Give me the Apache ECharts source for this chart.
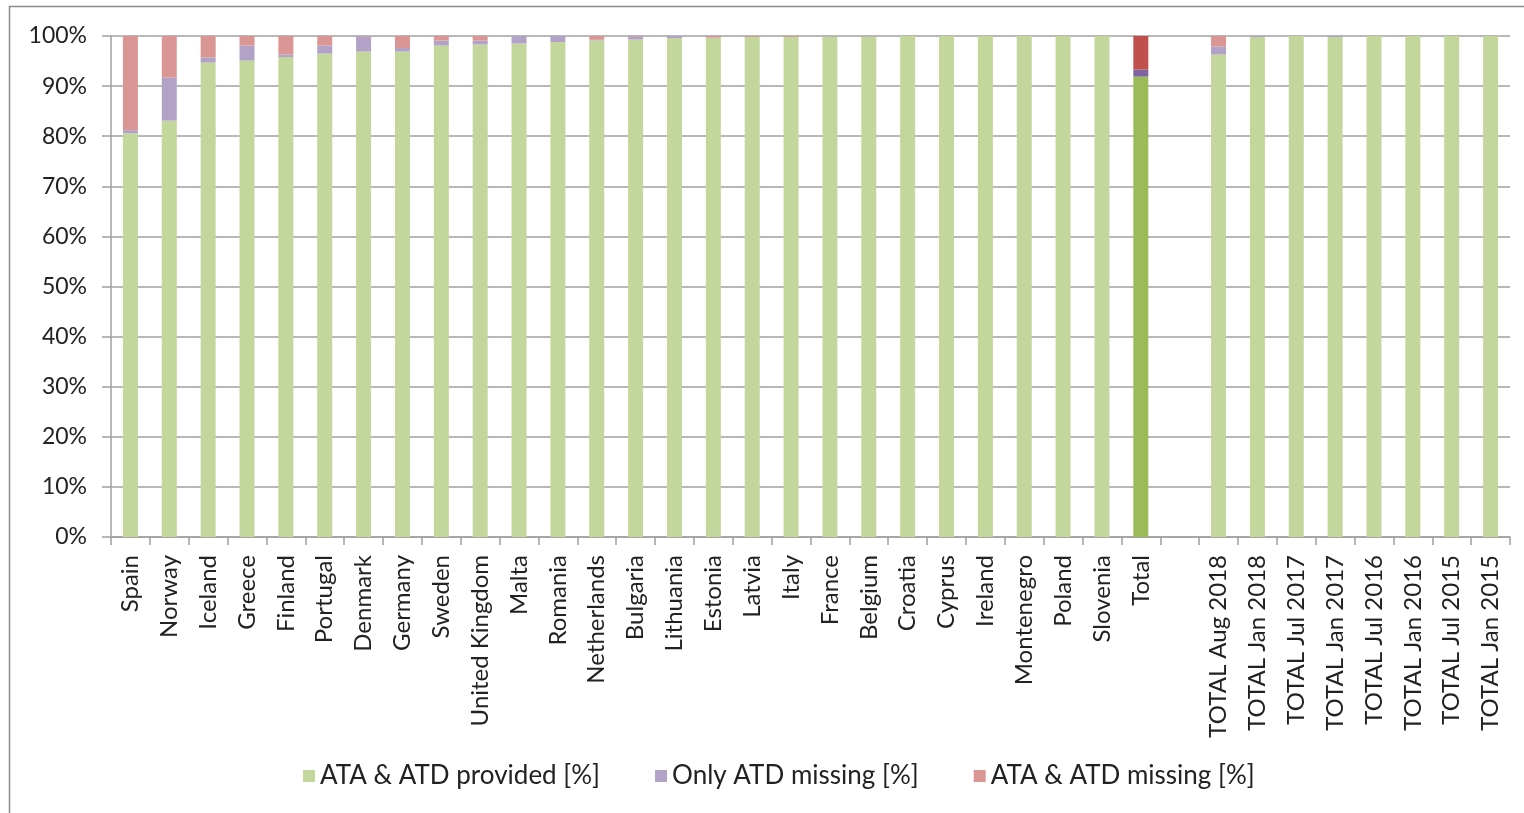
<!DOCTYPE html>
<html>
<head>
<meta charset="utf-8">
<script src="https://cdn.jsdelivr.net/npm/echarts@6/dist/echarts.min.js"></script>
<style>
html,body{margin:0;padding:0;background:#fff;}
#chart{width:1524px;height:813px;}
</style>
</head>
<body>
<div id="chart"></div>
<script>
const categories = ['Spain','Norway','Iceland','Greece','Finland','Portugal','Denmark','Germany','Sweden','United Kingdom','Malta','Romania','Netherlands','Bulgaria','Lithuania','Estonia','Latvia','Italy','France','Belgium','Croatia','Cyprus','Ireland','Montenegro','Poland','Slovenia','Total','','TOTAL Aug 2018','TOTAL Jan 2018','TOTAL Jul 2017','TOTAL Jan 2017','TOTAL Jul 2016','TOTAL Jan 2016','TOTAL Jul 2015','TOTAL Jan 2015'];
const provided = [80.6,83.1,94.7,95.1,95.8,96.5,96.9,96.9,98.1,98.3,98.5,98.8,99.1,99.3,99.6,99.6,99.85,99.85,99.9,99.9,100,100,100,100,100,100,91.9,null,96.3,99.8,100,99.8,100,100,100,100];
const onlyAtdMissing = [0.6,8.6,1.0,3.0,0.5,1.6,3.0,0.7,1.0,0.8,1.5,1.2,0.15,0.6,0.4,0.1,0,0,0.1,0.1,0,0,0,0,0,0,1.4,null,1.6,0.2,0,0.2,0,0,0,0];
const bothMissing = [18.8,8.3,4.3,1.9,3.7,1.9,0.1,2.4,0.9,0.9,0,0,0.75,0.1,0,0.3,0.15,0.15,0,0,0,0,0,0,0,0,6.7,null,2.1,0,0,0,0,0,0,0,0];
const yTicks = ['0%','10%','20%','30%','40%','50%','60%','70%','80%','90%','100%'];
const seriesNames = ['ATA & ATD provided [%]','Only ATD missing [%]','ATA & ATD missing [%]'];
const lightColors = ['#C3D69B','#B3A2C7','#D99694'];
const darkColors = ['#9BBB59','#8064A2','#C0504D'];
const highlightCategory = 'Total';

const FONT = 'Lato';
const chart = echarts.init(document.getElementById('chart'), null, {renderer:'canvas'});

function mk(values, idx){
  return values.map((v,i)=> categories[i]===highlightCategory ? {value:v, itemStyle:{color:darkColors[idx]}} : v);
}
const allVals=[provided,onlyAtdMissing,bothMissing];
const series = allVals.map((vals,idx)=>({
  name: seriesNames[idx],
  type:'bar',
  stack:'s',
  barWidth:15,
  itemStyle:{color:lightColors[idx]},
  data: mk(vals, idx),
  emphasis:{disabled:true}
}));

chart.setOption({
  animation:false,
  backgroundColor:'#fff',
  textStyle:{fontFamily:FONT},
  graphic:[{type:'rect',shape:{x:9.5,y:6.5,width:1530,height:820},style:{fill:'none',stroke:'#8C8C8C',lineWidth:1.5},silent:true}],
  grid:{left:111,right:14,top:36,bottom:276,containLabel:false},
  legend:{
    data:seriesNames,
    left:298,
    top:758,
    itemWidth:12,itemHeight:12,itemGap:55,
    icon:'rect',
    textStyle:{fontFamily:FONT,fontSize:26,color:'#222'}
  },
  xAxis:{
    type:'category',
    data:categories,
    axisLine:{lineStyle:{color:'#A0A0A0',width:1.5}},
    axisTick:{show:true,interval:0,length:8,lineStyle:{color:'#A0A0A0',width:1.5}},
    axisLabel:{interval:0,rotate:90,margin:18,fontFamily:FONT,fontSize:24,color:'#222'}
  },
  yAxis:{
    type:'value',
    min:0,max:100,interval:10,
    axisLine:{show:true,lineStyle:{color:'#A0A0A0',width:1.5}},
    axisTick:{show:true,length:9,lineStyle:{color:'#A0A0A0',width:1.5}},
    splitLine:{lineStyle:{color:'#A0A0A0',width:1.5}},
    axisLabel:{margin:24,fontFamily:FONT,fontSize:23,color:'#222',formatter:(v)=>yTicks[Math.round(v/10)]}
  },
  series:series
});
</script>
</body>
</html>
